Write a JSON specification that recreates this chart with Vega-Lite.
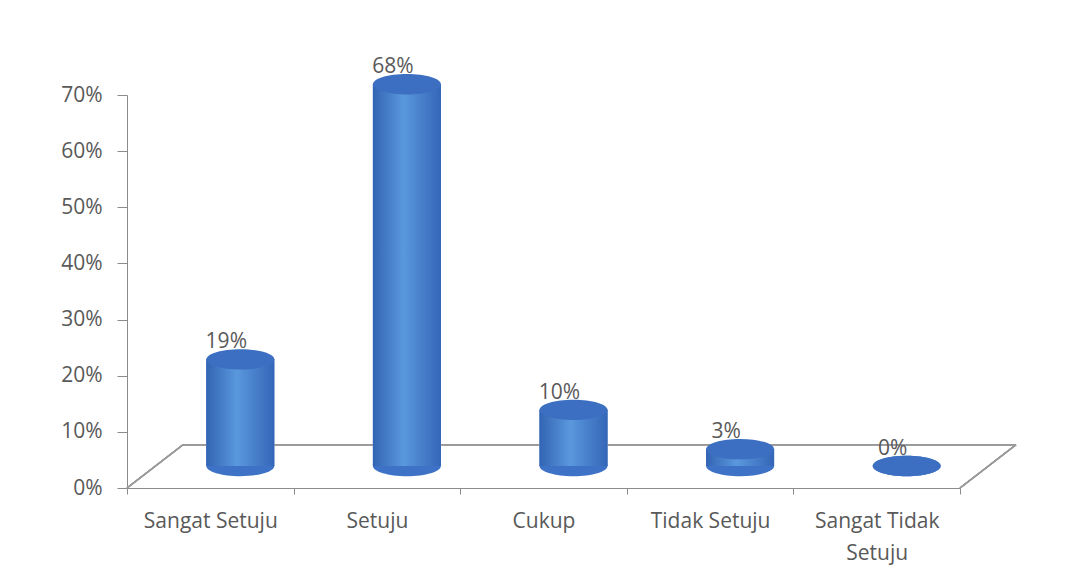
{
  "$schema": "https://vega.github.io/schema/vega-lite/v6.json",
  "autosize": {"type": "none"},
  "width": 833,
  "height": 393,
  "padding": {"left": 127, "top": 95, "right": 120, "bottom": 97},
  "background": "white",
  "config": {
    "view": {"stroke": null},
    "font": "Open Sans",
    "axis": {"labelFont": "Open Sans", "labelColor": "#595959", "domainColor": "#8c8c8c", "tickColor": "#8c8c8c", "grid": false, "title": null}
  },
  "data": {
    "values": [
      {"kategori": "Sangat Setuju", "persen": 0.19},
      {"kategori": "Setuju", "persen": 0.68},
      {"kategori": "Cukup", "persen": 0.10},
      {"kategori": "Tidak Setuju", "persen": 0.03},
      {"kategori": "Sangat Tidak Setuju", "persen": 0.00}
    ]
  },
  "layer": [
    {
      "mark": {"type": "bar", "size": 68, "xOffset": 30, "yOffset": -22,
        "color": {"gradient": "linear", "x1": 0, "x2": 1, "y1": 0, "y2": 0,
          "stops": [{"offset": 0, "color": "#3264b4"}, {"offset": 0.45, "color": "#5a98dc"}, {"offset": 1, "color": "#3466b8"}]}},
      "encoding": {
        "x": {
          "field": "kategori", "type": "nominal", "sort": null,
          "scale": {"paddingInner": 0, "paddingOuter": 0},
          "axis": {
            "labelAngle": 0, "labelFontSize": 21, "labelPadding": 16, "tickSize": 6, "tickBand": "extent",
            "labelExpr": "datum.value == 'Sangat Tidak Setuju' ? ['Sangat Tidak', 'Setuju'] : datum.value",
            "labelLineHeight": 32, "labelBaseline": "top"
          }
        },
        "y": {
          "field": "persen", "type": "quantitative",
          "scale": {"domain": [0, 0.7]},
          "axis": {"format": ".0%", "values": [0, 0.1, 0.2, 0.3, 0.4, 0.5, 0.6, 0.7], "labelFontSize": 21, "tickSize": 10, "labelPadding": 15}
        }
      }
    },
    {
      "mark": {"type": "rule", "color": "#9a9a9a", "strokeWidth": 1.5, "xOffset": 56, "x2Offset": 56},
      "encoding": {
        "x": {"datum": "Sangat Setuju", "type": "nominal", "bandPosition": 0},
        "x2": {"datum": "Sangat Tidak Setuju", "bandPosition": 1},
        "y": {"datum": 0.077, "type": "quantitative"}
      }
    },
    {
      "mark": {"type": "rule", "color": "#9a9a9a", "strokeWidth": 1.5, "x2Offset": 56},
      "encoding": {
        "x": {"datum": "Sangat Setuju", "type": "nominal", "bandPosition": 0},
        "x2": {"datum": "Sangat Setuju", "bandPosition": 0},
        "y": {"datum": 0, "type": "quantitative"},
        "y2": {"datum": 0.077}
      }
    },
    {
      "mark": {"type": "rule", "color": "#9a9a9a", "strokeWidth": 1.5, "x2Offset": 56},
      "encoding": {
        "x": {"datum": "Sangat Tidak Setuju", "type": "nominal", "bandPosition": 1},
        "x2": {"datum": "Sangat Tidak Setuju", "bandPosition": 1},
        "y": {"datum": 0, "type": "quantitative"},
        "y2": {"datum": 0.077}
      }
    },
    {
      "mark": {"type": "point", "filled": true, "shape": "M-1,0 A1,0.3 0 1,1 1,0 A1,0.3 0 1,1 -1,0 Z", "size": 4624, "color": "#3e72c6", "opacity": 1, "xOffset": 30, "yOffset": -22},
      "encoding": {
        "x": {"field": "kategori", "type": "nominal", "sort": null},
        "y": {"datum": 0, "type": "quantitative"}
      }
    },
    {
      "mark": {"type": "bar", "size": 68, "xOffset": 30, "yOffset": -22,
        "color": {"gradient": "linear", "x1": 0, "x2": 1, "y1": 0, "y2": 0,
          "stops": [{"offset": 0, "color": "#3264b4"}, {"offset": 0.45, "color": "#5a98dc"}, {"offset": 1, "color": "#3466b8"}]}},
      "encoding": {
        "x": {"field": "kategori", "type": "nominal", "sort": null},
        "y": {"field": "persen", "type": "quantitative"}
      }
    },
    {
      "mark": {"type": "point", "filled": true, "shape": "M-1,0 A1,0.3 0 1,1 1,0 A1,0.3 0 1,1 -1,0 Z", "size": 4624, "color": "#3c6fc2", "opacity": 1, "xOffset": 30, "yOffset": -22},
      "encoding": {
        "x": {"field": "kategori", "type": "nominal", "sort": null},
        "y": {"field": "persen", "type": "quantitative"}
      }
    },
    {
      "mark": {"type": "text", "fontSize": 21, "color": "#595959", "xOffset": 16, "yOffset": -39, "baseline": "middle"},
      "encoding": {
        "x": {"field": "kategori", "type": "nominal", "sort": null},
        "y": {"field": "persen", "type": "quantitative"},
        "text": {"field": "persen", "type": "quantitative", "format": ".0%"}
      }
    }
  ]
}
